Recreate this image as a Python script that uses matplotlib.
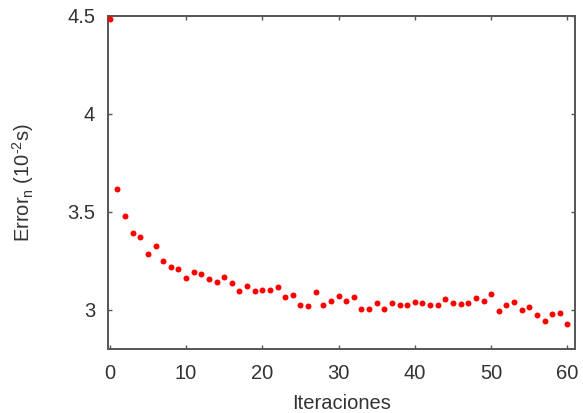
import matplotlib
matplotlib.use("Agg")
import matplotlib.pyplot as plt

iteraciones = list(range(61))
error_n = [
    4.485, 3.619, 3.479, 3.390, 3.370, 3.283, 3.325, 3.251, 3.220, 3.207,
    3.163, 3.193, 3.185, 3.159, 3.142, 3.169, 3.136, 3.097, 3.124, 3.097,
    3.102, 3.100, 3.117, 3.066, 3.075, 3.025, 3.019, 3.093, 3.022, 3.047,
    3.068, 3.047, 3.063, 3.005, 3.002, 3.037, 3.005, 3.036, 3.027, 3.025,
    3.039, 3.036, 3.024, 3.024, 3.057, 3.036, 3.032, 3.037, 3.059, 3.047,
    3.081, 2.995, 3.025, 3.042, 2.998, 3.015, 2.975, 2.944, 2.978, 2.985,
    2.930,
]
x_ticks = [0, 10, 20, 30, 40, 50, 60]
y_ticks = [3, 3.5, 4, 4.5]
y_tick_labels = ["3", "3.5", "4", "4.5"]

plt.rcParams['font.family'] = ['Liberation Sans', 'DejaVu Sans']
text_color = '#333333'
spine_color = '#555555'
fs = 14.5

fig = plt.figure(figsize=(5.83, 4.13), dpi=100)
ax = fig.add_axes([0.1858, 0.155, 0.8005, 0.8063])

ax.plot(iteraciones, error_n, linestyle='none', marker='o', markersize=4.3,
        color='#ff0000', markeredgewidth=0, clip_on=False, zorder=3)

ax.set_xlim(-0.2, 61)
ax.set_ylim(2.8, 4.5)
ax.set_xticks(x_ticks)
ax.set_yticks(y_ticks)
ax.set_yticklabels(y_tick_labels)

for s in ax.spines.values():
    s.set_color(spine_color)
    s.set_linewidth(1.4)

ax.tick_params(direction='in', length=3, width=1, color=spine_color,
               top=True, right=True, labelsize=fs, labelcolor=text_color)
ax.tick_params(axis='x', pad=11)
ax.tick_params(axis='y', pad=9.5)

# hyphen (U+2010) in the exponent keeps a short dash instead of a math minus
ylabel = 'Error$_\\mathregular{n}$ (10$^{\\mathregular{\u20102}}$s)'

ax.set_xlabel('Iteraciones', fontsize=fs, color=text_color, labelpad=8)
ax.set_ylabel(ylabel, fontsize=fs, color=text_color, labelpad=22.5)

fig.savefig('out.png', dpi=100)
